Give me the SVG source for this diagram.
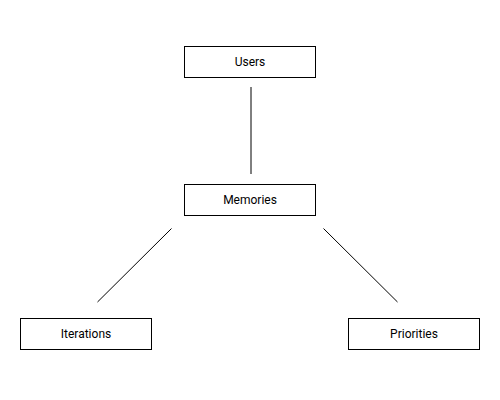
<svg xmlns="http://www.w3.org/2000/svg" width="500" height="400" viewBox="0 0 500 400">
<style>
.box{fill:#fff;stroke:#000;stroke-width:1}
.lbl{font-family:Roboto,"Liberation Sans",sans-serif;font-size:12px;fill:#000;text-anchor:middle;dominant-baseline:central}
.edge{stroke:#000;stroke-width:1;fill:none}
</style>
<rect width="500" height="400" fill="#fff"/>
<g id="connectors">
<line class="edge" x1="251" y1="87" x2="251" y2="174"/>
<line class="edge" x1="171.5" y1="228.5" x2="97.5" y2="302"/>
<line class="edge" x1="323.5" y1="228.5" x2="397.5" y2="302"/>
</g>
<g id="users">
<rect class="box" x="184.5" y="46.5" width="131" height="31"/>
<text class="lbl" x="250" y="62">Users</text>
</g>
<g id="memories">
<rect class="box" x="184.5" y="184.5" width="131" height="31"/>
<text class="lbl" x="250" y="200">Memories</text>
</g>
<g id="iterations">
<rect class="box" x="20.5" y="318.5" width="131" height="31"/>
<text class="lbl" x="86" y="334">Iterations</text>
</g>
<g id="priorities">
<rect class="box" x="348.5" y="318.5" width="131" height="31"/>
<text class="lbl" x="414" y="334">Priorities</text>
</g>
</svg>
